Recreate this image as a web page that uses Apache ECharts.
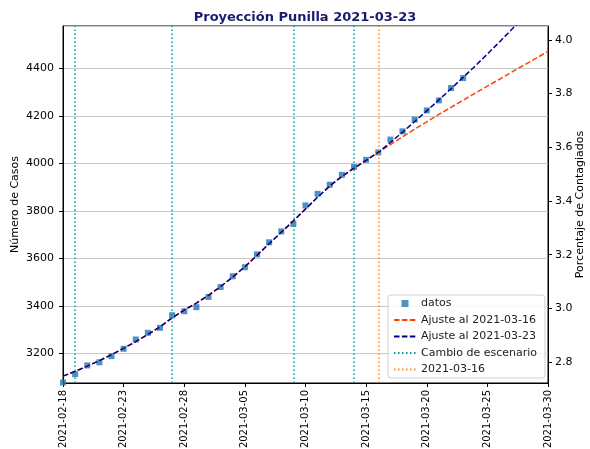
<!DOCTYPE html>
<html>
<head>
<meta charset="utf-8">
<script src="https://cdn.jsdelivr.net/npm/echarts@6/dist/echarts.min.js"></script>
<style>
  html, body { margin: 0; padding: 0; background: #fff; }
  #chart { width: 590px; height: 449px; }
</style>
</head>
<body>
<div id="chart"></div>
<script>
  // fecha del primer dato, las x son días desde esta fecha
  const fechaInicio = '2021-02-18'
  const etiquetasX = ['2021-02-18', '2021-02-23', '2021-02-28', '2021-03-05', '2021-03-10',
    '2021-03-15', '2021-03-20', '2021-03-25', '2021-03-30']

  // casos diarios desde 2021-02-18 hasta 2021-03-23
  const casosDatos = [3078, 3113, 3150, 3163, 3189, 3220, 3259, 3287, 3308, 3361,
    3378, 3395, 3438, 3480, 3525, 3563, 3617, 3668, 3714, 3745,
    3823, 3872, 3910, 3952, 3985, 4015, 4046, 4100, 4135, 4184,
    4223, 4265, 4317, 4359]

  // ajustes, un valor por día desde 2021-02-18
  const ajuste0316 = [3105, 3125, 3147, 3170, 3195, 3222, 3250, 3280, 3312, 3350,
    3383, 3412, 3445, 3482, 3522, 3565, 3613, 3662, 3710, 3758,
    3808, 3858, 3905, 3945, 3980, 4013, 4046, 4079, 4112, 4144,
    4175, 4206, 4236, 4266, 4296, 4325, 4354, 4384, 4413, 4442, 4471]
  const ajuste0323 = [3105, 3125, 3147, 3170, 3195, 3222, 3250, 3280, 3312, 3350,
    3383, 3412, 3445, 3482, 3522, 3565, 3613, 3662, 3710, 3758,
    3808, 3858, 3905, 3945, 3980, 4013, 4046, 4088, 4131, 4176,
    4221, 4267, 4314, 4362, 4410, 4460, 4511, 4563, 4616]

  const cambiosEscenario = ['2021-02-19', '2021-02-27', '2021-03-09', '2021-03-14']
  const fechaCorte = ['2021-03-16']

  // población aprox. para pasar de casos a porcentaje
  const poblacion = 113000
  const casosMin = 3076
  const casosMax = 4578

  function dia(fecha) {
    return Math.round((Date.parse(fecha) - Date.parse(fechaInicio)) / 86400000)
  }
  function puntos(valores) {
    return valores.map((v, i) => [i, v])
  }

  const fuente = 'DejaVu Sans'
  const sinSimbolo = { color: 'rgba(0,0,0,0)', borderColor: 'rgba(0,0,0,0)', borderWidth: 0 }
  const chart = echarts.init(document.getElementById('chart'))

  chart.setOption({
    animation: false,
    textStyle: { fontFamily: fuente },
    title: {
      text: 'Proyección Punilla 2021-03-23',
      left: 300,
      top: 6,
      textAlign: 'center',
      textStyle: { fontFamily: fuente, fontSize: 13, fontWeight: 'bold', color: '#191970' }
    },
    grid: {
      left: 63,
      right: 42,
      top: 26,
      bottom: 66,
      outerBoundsMode: 'none',
      containLabel: false,
      show: true,
      borderColor: '#000',
      borderWidth: 1,
      backgroundColor: 'transparent'
    },
    legend: {
      orient: 'vertical',
      left: 388,
      top: 295,
      itemWidth: 22,
      itemHeight: 7,
      itemGap: 5.5,
      padding: [3, 8, 3, 5],
      backgroundColor: 'rgba(255,255,255,0.85)',
      borderColor: '#d0d0d0',
      borderWidth: 1,
      borderRadius: 3,
      textStyle: { fontFamily: fuente, fontSize: 11, color: '#222' },
      data: [
        { name: 'datos', icon: 'path://M0,0 L1,0 L1,1 L0,1 Z' },
        { name: 'Ajuste al 2021-03-16', itemStyle: sinSimbolo },
        { name: 'Ajuste al 2021-03-23', itemStyle: sinSimbolo },
        { name: 'Cambio de escenario', itemStyle: sinSimbolo },
        { name: '2021-03-16', itemStyle: sinSimbolo }
      ]
    },
    xAxis: {
      type: 'value',
      min: 0,
      max: 40,
      interval: 5,
      axisLine: { lineStyle: { color: '#000', width: 1 } },
      axisTick: { show: true, length: 4, lineStyle: { color: '#000' } },
      splitLine: { show: false },
      axisLabel: {
        rotate: 90,
        margin: 7,
        fontSize: 10,
        color: '#000',
        fontFamily: fuente,
        formatter: v => etiquetasX[Math.round(v / 5)]
      }
    },
    yAxis: [
      {
        type: 'value',
        position: 'left',
        min: casosMin,
        max: casosMax,
        splitNumber: 7,
        name: 'Número de Casos',
        nameLocation: 'middle',
        nameRotate: 90,
        nameGap: 42,
        nameMoveOverlap: false,
        nameTextStyle: { fontFamily: fuente, fontSize: 11, color: '#000' },
        axisLine: { show: true, lineStyle: { color: '#000' } },
        axisTick: { show: true, length: 4, lineStyle: { color: '#000' } },
        splitLine: { show: true, lineStyle: { color: '#c8c8c8', width: 1 } },
        axisLabel: {
          showMinLabel: false,
          showMaxLabel: false,
          margin: 9,
          fontSize: 11,
          color: '#000',
          fontFamily: fuente,
          formatter: v => String(v)
        }
      },
      {
        type: 'value',
        position: 'right',
        min: casosMin / poblacion * 100,
        max: casosMax / poblacion * 100,
        splitNumber: 7,
        name: 'Porcentaje de Contagiados',
        nameLocation: 'middle',
        nameRotate: 90,
        nameGap: 27,
        nameMoveOverlap: false,
        nameTextStyle: { fontFamily: fuente, fontSize: 11, color: '#000' },
        axisLine: { show: true, lineStyle: { color: '#000' } },
        axisTick: { show: true, length: 4, lineStyle: { color: '#000' } },
        splitLine: { show: false },
        axisLabel: {
          showMinLabel: false,
          showMaxLabel: false,
          margin: 7,
          fontSize: 11,
          color: '#000',
          fontFamily: fuente,
          formatter: v => v.toFixed(1)
        }
      }
    ],
    series: [
      {
        name: 'datos',
        type: 'scatter',
        symbol: 'rect',
        symbolSize: 6,
        itemStyle: { color: '#1f77b4' },
        data: puntos(casosDatos)
      },
      {
        name: 'Ajuste al 2021-03-16',
        type: 'line',
        symbol: 'none',
        lineStyle: { color: '#ff4500', width: 1.5, type: [5.5, 2.4] },
        itemStyle: { color: '#ff4500' },
        data: puntos(ajuste0316)
      },
      {
        name: 'Ajuste al 2021-03-23',
        type: 'line',
        symbol: 'none',
        clip: true,
        lineStyle: { color: '#00008b', width: 1.5, type: [5.5, 2.4] },
        itemStyle: { color: '#00008b' },
        data: puntos(ajuste0323)
      },
      {
        name: 'Cambio de escenario',
        type: 'line',
        symbol: 'none',
        lineStyle: { color: '#009e9e', width: 1.5, type: [1.5, 2.5] },
        itemStyle: { color: '#009e9e' },
        data: [],
        markLine: {
          silent: true,
          symbol: 'none',
          label: { show: false },
          lineStyle: { color: '#009e9e', width: 1.5, type: [1.5, 2.5] },
          data: cambiosEscenario.map(f => ({ xAxis: dia(f) }))
        }
      },
      {
        name: '2021-03-16',
        type: 'line',
        symbol: 'none',
        lineStyle: { color: '#ff8c1a', width: 1.5, type: [1.5, 2.5] },
        itemStyle: { color: '#ff8c1a' },
        data: [],
        markLine: {
          silent: true,
          symbol: 'none',
          label: { show: false },
          lineStyle: { color: '#ff8c1a', width: 1.5, type: [1.5, 2.5] },
          data: fechaCorte.map(f => ({ xAxis: dia(f) }))
        }
      }
    ]
  })
</script>
</body>
</html>
